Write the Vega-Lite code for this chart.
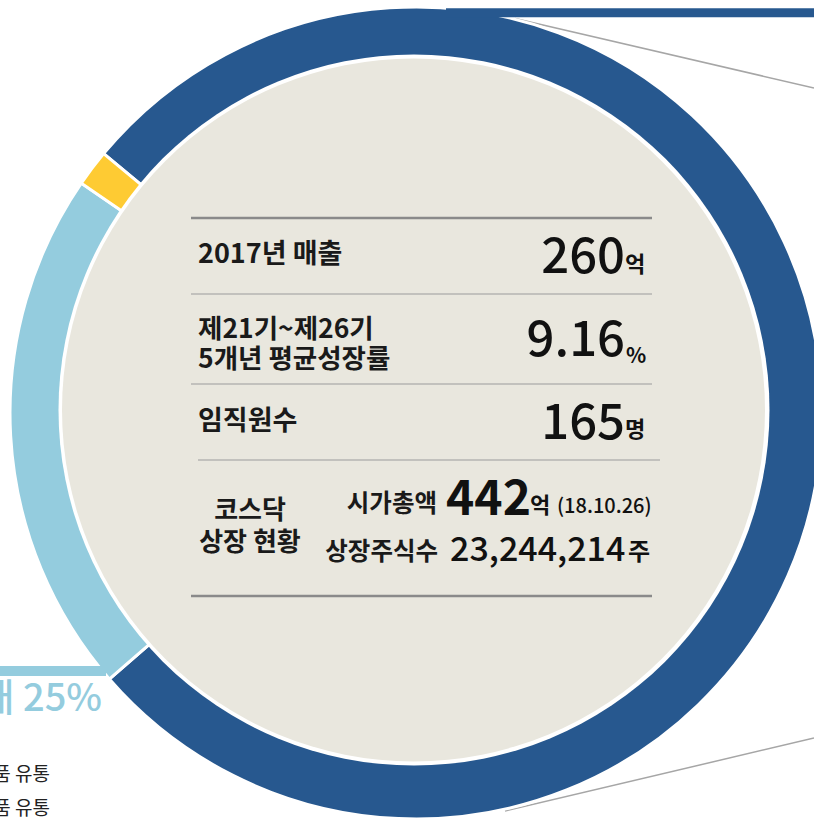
{
  "$schema": "https://vega.github.io/schema/vega-lite/v6.json",
  "width": 814,
  "height": 822,
  "autosize": {"type": "none"},
  "padding": 0,
  "background": "#ffffff",
  "view": {"stroke": null},
  "config": {"text": {"font": "Noto Sans CJK KR"}},
  "datasets": {
    "share": [
      {"segment": "부문 1", "pct": 77.6},
      {"segment": "부문 2", "pct": 20.95},
      {"segment": "부문 3", "pct": 1.45}
    ],
    "frame": [
      {"id": "hole"}, {"id": "plate"}, {"id": "banner_top"}, {"id": "banner_side"},
      {"id": "rule1"}, {"id": "rule2"}, {"id": "rule3"}, {"id": "rule4"}, {"id": "rule5"},
      {"id": "conn_top"}, {"id": "conn_bottom"}
    ],
    "notes": [
      {"id": "sales_label", "text": "2017년 매출"},
      {"id": "sales_value", "text": "260"},
      {"id": "sales_unit", "text": "억"},
      {"id": "growth_label", "text": "제21기~제26기\n5개년 평균성장률"},
      {"id": "growth_value", "text": "9.16"},
      {"id": "growth_unit", "text": "%"},
      {"id": "staff_label", "text": "임직원수"},
      {"id": "staff_value", "text": "165"},
      {"id": "staff_unit", "text": "명"},
      {"id": "kosdaq_label", "text": "코스닥\n상장 현황"},
      {"id": "cap_label", "text": "시가총액"},
      {"id": "cap_value", "text": "442"},
      {"id": "cap_unit", "text": "억"},
      {"id": "cap_date", "text": "(18.10.26)"},
      {"id": "shares_label", "text": "상장주식수"},
      {"id": "shares_value", "text": "23,244,214"},
      {"id": "shares_unit", "text": "주"},
      {"id": "side_share", "text": "매 25%"},
      {"id": "side_item1", "text": "품 유통"},
      {"id": "side_item2", "text": "품 유통"}
    ]
  },
  "data": {"name": "notes"},
  "layer": [
    {
      "data": {"name": "frame"},
      "transform": [{"filter": "datum.id == 'conn_top'"}],
      "mark": {"type": "rule", "color": "#a6a6a6", "strokeWidth": 1.5},
      "encoding": {
        "x": {"datum": 515, "type": "quantitative", "scale": {"domain": [0, 814], "range": [0, 814], "nice": false, "zero": false}, "axis": null},
        "x2": {"datum": 814},
        "y": {"datum": 18.5, "type": "quantitative", "scale": {"domain": [0, 822], "range": [0, 822], "nice": false, "zero": false}, "axis": null},
        "y2": {"datum": 88}
      }
    },
    {
      "data": {"name": "frame"},
      "transform": [{"filter": "datum.id == 'conn_bottom'"}],
      "mark": {"type": "rule", "color": "#a6a6a6", "strokeWidth": 1.5},
      "encoding": {
        "x": {"datum": 505, "type": "quantitative", "scale": {"domain": [0, 814], "range": [0, 814], "nice": false, "zero": false}, "axis": null},
        "x2": {"datum": 814},
        "y": {"datum": 811, "type": "quantitative", "scale": {"domain": [0, 822], "range": [0, 822], "nice": false, "zero": false}, "axis": null},
        "y2": {"datum": 738}
      }
    },
    {
      "data": {"name": "share"},
      "mark": {"type": "arc", "radius": 406, "radius2": 0, "stroke": "#ffffff", "strokeWidth": 3},
      "encoding": {
        "theta": {"field": "pct", "type": "quantitative", "stack": true, "scale": {"range": [5.4053, 11.6885]}},
        "order": {"field": "pct", "sort": "descending"},
        "color": {"field": "segment", "type": "nominal", "scale": {"domain": ["부문 1", "부문 2", "부문 3"], "range": ["#27588f", "#94ccde", "#fecb33"]}, "legend": null},
        "x": {"datum": 416, "type": "quantitative", "scale": {"domain": [0, 814], "range": [0, 814], "nice": false, "zero": false}, "axis": null},
        "y": {"datum": 413, "type": "quantitative", "scale": {"domain": [0, 822], "range": [0, 822], "nice": false, "zero": false}, "axis": null}
      }
    },
    {
      "data": {"name": "frame"},
      "transform": [{"filter": "datum.id == 'hole'"}],
      "mark": {"type": "arc", "radius": 355.5, "theta": 0, "theta2": 6.2832, "color": "#ffffff"},
      "encoding": {
        "x": {"datum": 414, "type": "quantitative", "scale": {"domain": [0, 814], "range": [0, 814], "nice": false, "zero": false}, "axis": null},
        "y": {"datum": 410, "type": "quantitative", "scale": {"domain": [0, 822], "range": [0, 822], "nice": false, "zero": false}, "axis": null}
      }
    },
    {
      "data": {"name": "frame"},
      "transform": [{"filter": "datum.id == 'plate'"}],
      "mark": {"type": "arc", "radius": 351.5, "theta": 0, "theta2": 6.2832, "color": "#e9e7de"},
      "encoding": {
        "x": {"datum": 413.5, "type": "quantitative", "scale": {"domain": [0, 814], "range": [0, 814], "nice": false, "zero": false}, "axis": null},
        "y": {"datum": 410, "type": "quantitative", "scale": {"domain": [0, 822], "range": [0, 822], "nice": false, "zero": false}, "axis": null}
      }
    },
    {
      "data": {"name": "frame"},
      "transform": [{"filter": "datum.id == 'banner_top'"}],
      "mark": {"type": "rect", "color": "#27588f"},
      "encoding": {
        "x": {"datum": 446, "type": "quantitative", "scale": {"domain": [0, 814], "range": [0, 814], "nice": false, "zero": false}, "axis": null},
        "x2": {"datum": 820},
        "y": {"datum": 8.3, "type": "quantitative", "scale": {"domain": [0, 822], "range": [0, 822], "nice": false, "zero": false}, "axis": null},
        "y2": {"datum": 17.3}
      }
    },
    {
      "data": {"name": "frame"},
      "transform": [{"filter": "datum.id == 'banner_side'"}],
      "mark": {"type": "rect", "color": "#94ccde"},
      "encoding": {
        "x": {"datum": -5, "type": "quantitative", "scale": {"domain": [0, 814], "range": [0, 814], "nice": false, "zero": false}, "axis": null},
        "x2": {"datum": 106},
        "y": {"datum": 666, "type": "quantitative", "scale": {"domain": [0, 822], "range": [0, 822], "nice": false, "zero": false}, "axis": null},
        "y2": {"datum": 676}
      }
    },
    {
      "data": {"name": "frame"},
      "transform": [{"filter": "datum.id == 'rule1'"}],
      "mark": {"type": "rule", "color": "#8a8a8a", "strokeWidth": 2.5},
      "encoding": {
        "x": {"datum": 191, "type": "quantitative", "scale": {"domain": [0, 814], "range": [0, 814], "nice": false, "zero": false}, "axis": null},
        "x2": {"datum": 652},
        "y": {"datum": 218, "type": "quantitative", "scale": {"domain": [0, 822], "range": [0, 822], "nice": false, "zero": false}, "axis": null}
      }
    },
    {
      "data": {"name": "frame"},
      "transform": [{"filter": "datum.id == 'rule2'"}],
      "mark": {"type": "rule", "color": "#9c9c9c", "strokeWidth": 1.2},
      "encoding": {
        "x": {"datum": 191, "type": "quantitative", "scale": {"domain": [0, 814], "range": [0, 814], "nice": false, "zero": false}, "axis": null},
        "x2": {"datum": 652},
        "y": {"datum": 294, "type": "quantitative", "scale": {"domain": [0, 822], "range": [0, 822], "nice": false, "zero": false}, "axis": null}
      }
    },
    {
      "data": {"name": "frame"},
      "transform": [{"filter": "datum.id == 'rule3'"}],
      "mark": {"type": "rule", "color": "#9c9c9c", "strokeWidth": 1.2},
      "encoding": {
        "x": {"datum": 191, "type": "quantitative", "scale": {"domain": [0, 814], "range": [0, 814], "nice": false, "zero": false}, "axis": null},
        "x2": {"datum": 652},
        "y": {"datum": 384, "type": "quantitative", "scale": {"domain": [0, 822], "range": [0, 822], "nice": false, "zero": false}, "axis": null}
      }
    },
    {
      "data": {"name": "frame"},
      "transform": [{"filter": "datum.id == 'rule4'"}],
      "mark": {"type": "rule", "color": "#9c9c9c", "strokeWidth": 1.2},
      "encoding": {
        "x": {"datum": 198, "type": "quantitative", "scale": {"domain": [0, 814], "range": [0, 814], "nice": false, "zero": false}, "axis": null},
        "x2": {"datum": 660},
        "y": {"datum": 460, "type": "quantitative", "scale": {"domain": [0, 822], "range": [0, 822], "nice": false, "zero": false}, "axis": null}
      }
    },
    {
      "data": {"name": "frame"},
      "transform": [{"filter": "datum.id == 'rule5'"}],
      "mark": {"type": "rule", "color": "#8a8a8a", "strokeWidth": 2.5},
      "encoding": {
        "x": {"datum": 191, "type": "quantitative", "scale": {"domain": [0, 814], "range": [0, 814], "nice": false, "zero": false}, "axis": null},
        "x2": {"datum": 652},
        "y": {"datum": 596, "type": "quantitative", "scale": {"domain": [0, 822], "range": [0, 822], "nice": false, "zero": false}, "axis": null}
      }
    },
    {
      "transform": [{"filter": "datum.id == 'sales_label'"}],
      "mark": {"type": "text", "align": "left", "baseline": "alphabetic", "fontSize": 27, "fontWeight": "bold", "color": "#1a1a1a"},
      "encoding": {
        "x": {"datum": 198, "type": "quantitative", "scale": {"domain": [0, 814], "range": [0, 814], "nice": false, "zero": false}, "axis": null},
        "y": {"datum": 263, "type": "quantitative", "scale": {"domain": [0, 822], "range": [0, 822], "nice": false, "zero": false}, "axis": null},
        "text": {"field": "text"}
      }
    },
    {
      "transform": [{"filter": "datum.id == 'sales_value' || datum.id == 'growth_value' || datum.id == 'staff_value'"}],
      "mark": {"type": "text", "align": "right", "baseline": "alphabetic", "fontSize": 49, "fontWeight": 500, "color": "#111111"},
      "encoding": {
        "x": {"datum": 625, "type": "quantitative", "scale": {"domain": [0, 814], "range": [0, 814], "nice": false, "zero": false}, "axis": null},
        "y": {"field": "id", "type": "nominal", "scale": {"type": "point", "domain": ["sales_value", "growth_value", "staff_value"], "range": [273, 439], "padding": 0}, "axis": null},
        "text": {"field": "text"}
      }
    },
    {
      "transform": [{"filter": "datum.id == 'sales_unit'"}],
      "mark": {"type": "text", "align": "left", "baseline": "alphabetic", "fontSize": 22, "fontWeight": "bold", "color": "#111111"},
      "encoding": {
        "x": {"datum": 625, "type": "quantitative", "scale": {"domain": [0, 814], "range": [0, 814], "nice": false, "zero": false}, "axis": null},
        "y": {"datum": 272, "type": "quantitative", "scale": {"domain": [0, 822], "range": [0, 822], "nice": false, "zero": false}, "axis": null},
        "text": {"field": "text"}
      }
    },
    {
      "transform": [{"filter": "datum.id == 'growth_label'"}],
      "mark": {"type": "text", "align": "left", "baseline": "alphabetic", "fontSize": 26.5, "fontWeight": "bold", "color": "#1a1a1a", "lineBreak": "\n", "lineHeight": 29.5},
      "encoding": {
        "x": {"datum": 198, "type": "quantitative", "scale": {"domain": [0, 814], "range": [0, 814], "nice": false, "zero": false}, "axis": null},
        "y": {"datum": 338, "type": "quantitative", "scale": {"domain": [0, 822], "range": [0, 822], "nice": false, "zero": false}, "axis": null},
        "text": {"field": "text"}
      }
    },
    {
      "transform": [{"filter": "datum.id == 'growth_unit'"}],
      "mark": {"type": "text", "align": "left", "baseline": "alphabetic", "fontSize": 21, "fontWeight": "bold", "color": "#111111"},
      "encoding": {
        "x": {"datum": 626, "type": "quantitative", "scale": {"domain": [0, 814], "range": [0, 814], "nice": false, "zero": false}, "axis": null},
        "y": {"datum": 363, "type": "quantitative", "scale": {"domain": [0, 822], "range": [0, 822], "nice": false, "zero": false}, "axis": null},
        "text": {"field": "text"}
      }
    },
    {
      "transform": [{"filter": "datum.id == 'staff_label'"}],
      "mark": {"type": "text", "align": "left", "baseline": "alphabetic", "fontSize": 27, "fontWeight": "bold", "color": "#1a1a1a"},
      "encoding": {
        "x": {"datum": 198, "type": "quantitative", "scale": {"domain": [0, 814], "range": [0, 814], "nice": false, "zero": false}, "axis": null},
        "y": {"datum": 430, "type": "quantitative", "scale": {"domain": [0, 822], "range": [0, 822], "nice": false, "zero": false}, "axis": null},
        "text": {"field": "text"}
      }
    },
    {
      "transform": [{"filter": "datum.id == 'staff_unit'"}],
      "mark": {"type": "text", "align": "left", "baseline": "alphabetic", "fontSize": 22, "fontWeight": "bold", "color": "#111111"},
      "encoding": {
        "x": {"datum": 625, "type": "quantitative", "scale": {"domain": [0, 814], "range": [0, 814], "nice": false, "zero": false}, "axis": null},
        "y": {"datum": 437, "type": "quantitative", "scale": {"domain": [0, 822], "range": [0, 822], "nice": false, "zero": false}, "axis": null},
        "text": {"field": "text"}
      }
    },
    {
      "transform": [{"filter": "datum.id == 'kosdaq_label'"}],
      "mark": {"type": "text", "align": "center", "baseline": "alphabetic", "fontSize": 26, "fontWeight": "bold", "color": "#1a1a1a", "lineBreak": "\n", "lineHeight": 32},
      "encoding": {
        "x": {"datum": 250, "type": "quantitative", "scale": {"domain": [0, 814], "range": [0, 814], "nice": false, "zero": false}, "axis": null},
        "y": {"datum": 519, "type": "quantitative", "scale": {"domain": [0, 822], "range": [0, 822], "nice": false, "zero": false}, "axis": null},
        "text": {"field": "text"}
      }
    },
    {
      "transform": [{"filter": "datum.id == 'cap_label'"}],
      "mark": {"type": "text", "align": "right", "baseline": "alphabetic", "fontSize": 24.5, "fontWeight": "bold", "color": "#1a1a1a"},
      "encoding": {
        "x": {"datum": 437, "type": "quantitative", "scale": {"domain": [0, 814], "range": [0, 814], "nice": false, "zero": false}, "axis": null},
        "y": {"datum": 512, "type": "quantitative", "scale": {"domain": [0, 822], "range": [0, 822], "nice": false, "zero": false}, "axis": null},
        "text": {"field": "text"}
      }
    },
    {
      "transform": [{"filter": "datum.id == 'cap_value'"}],
      "mark": {"type": "text", "align": "left", "baseline": "alphabetic", "fontSize": 48, "fontWeight": "bold", "color": "#111111"},
      "encoding": {
        "x": {"datum": 446, "type": "quantitative", "scale": {"domain": [0, 814], "range": [0, 814], "nice": false, "zero": false}, "axis": null},
        "y": {"datum": 515, "type": "quantitative", "scale": {"domain": [0, 822], "range": [0, 822], "nice": false, "zero": false}, "axis": null},
        "text": {"field": "text"}
      }
    },
    {
      "transform": [{"filter": "datum.id == 'cap_unit'"}],
      "mark": {"type": "text", "align": "left", "baseline": "alphabetic", "fontSize": 22, "fontWeight": "bold", "color": "#111111"},
      "encoding": {
        "x": {"datum": 530, "type": "quantitative", "scale": {"domain": [0, 814], "range": [0, 814], "nice": false, "zero": false}, "axis": null},
        "y": {"datum": 513, "type": "quantitative", "scale": {"domain": [0, 822], "range": [0, 822], "nice": false, "zero": false}, "axis": null},
        "text": {"field": "text"}
      }
    },
    {
      "transform": [{"filter": "datum.id == 'cap_date'"}],
      "mark": {"type": "text", "align": "left", "baseline": "alphabetic", "fontSize": 20, "fontWeight": 500, "color": "#111111"},
      "encoding": {
        "x": {"datum": 557, "type": "quantitative", "scale": {"domain": [0, 814], "range": [0, 814], "nice": false, "zero": false}, "axis": null},
        "y": {"datum": 513, "type": "quantitative", "scale": {"domain": [0, 822], "range": [0, 822], "nice": false, "zero": false}, "axis": null},
        "text": {"field": "text"}
      }
    },
    {
      "transform": [{"filter": "datum.id == 'shares_label'"}],
      "mark": {"type": "text", "align": "right", "baseline": "alphabetic", "fontSize": 24.5, "fontWeight": "bold", "color": "#1a1a1a"},
      "encoding": {
        "x": {"datum": 438, "type": "quantitative", "scale": {"domain": [0, 814], "range": [0, 814], "nice": false, "zero": false}, "axis": null},
        "y": {"datum": 560, "type": "quantitative", "scale": {"domain": [0, 822], "range": [0, 822], "nice": false, "zero": false}, "axis": null},
        "text": {"field": "text"}
      }
    },
    {
      "transform": [{"filter": "datum.id == 'shares_value'"}],
      "mark": {"type": "text", "align": "left", "baseline": "alphabetic", "fontSize": 34, "fontWeight": 500, "color": "#111111"},
      "encoding": {
        "x": {"datum": 450, "type": "quantitative", "scale": {"domain": [0, 814], "range": [0, 814], "nice": false, "zero": false}, "axis": null},
        "y": {"datum": 561, "type": "quantitative", "scale": {"domain": [0, 822], "range": [0, 822], "nice": false, "zero": false}, "axis": null},
        "text": {"field": "text"}
      }
    },
    {
      "transform": [{"filter": "datum.id == 'shares_unit'"}],
      "mark": {"type": "text", "align": "left", "baseline": "alphabetic", "fontSize": 24, "fontWeight": "bold", "color": "#111111"},
      "encoding": {
        "x": {"datum": 628, "type": "quantitative", "scale": {"domain": [0, 814], "range": [0, 814], "nice": false, "zero": false}, "axis": null},
        "y": {"datum": 560, "type": "quantitative", "scale": {"domain": [0, 822], "range": [0, 822], "nice": false, "zero": false}, "axis": null},
        "text": {"field": "text"}
      }
    },
    {
      "transform": [{"filter": "datum.id == 'side_share'"}],
      "mark": {"type": "text", "align": "right", "baseline": "alphabetic", "fontSize": 38, "fontWeight": 500, "color": "#94ccde"},
      "encoding": {
        "x": {"datum": 102, "type": "quantitative", "scale": {"domain": [0, 814], "range": [0, 814], "nice": false, "zero": false}, "axis": null},
        "y": {"datum": 711, "type": "quantitative", "scale": {"domain": [0, 822], "range": [0, 822], "nice": false, "zero": false}, "axis": null},
        "text": {"field": "text"}
      }
    },
    {
      "transform": [{"filter": "datum.id == 'side_item1'"}],
      "mark": {"type": "text", "align": "right", "baseline": "alphabetic", "fontSize": 19, "fontWeight": "normal", "color": "#222222"},
      "encoding": {
        "x": {"datum": 50, "type": "quantitative", "scale": {"domain": [0, 814], "range": [0, 814], "nice": false, "zero": false}, "axis": null},
        "y": {"datum": 781, "type": "quantitative", "scale": {"domain": [0, 822], "range": [0, 822], "nice": false, "zero": false}, "axis": null},
        "text": {"field": "text"}
      }
    },
    {
      "transform": [{"filter": "datum.id == 'side_item2'"}],
      "mark": {"type": "text", "align": "right", "baseline": "alphabetic", "fontSize": 19, "fontWeight": "normal", "color": "#222222"},
      "encoding": {
        "x": {"datum": 50, "type": "quantitative", "scale": {"domain": [0, 814], "range": [0, 814], "nice": false, "zero": false}, "axis": null},
        "y": {"datum": 815, "type": "quantitative", "scale": {"domain": [0, 822], "range": [0, 822], "nice": false, "zero": false}, "axis": null},
        "text": {"field": "text"}
      }
    }
  ]
}
